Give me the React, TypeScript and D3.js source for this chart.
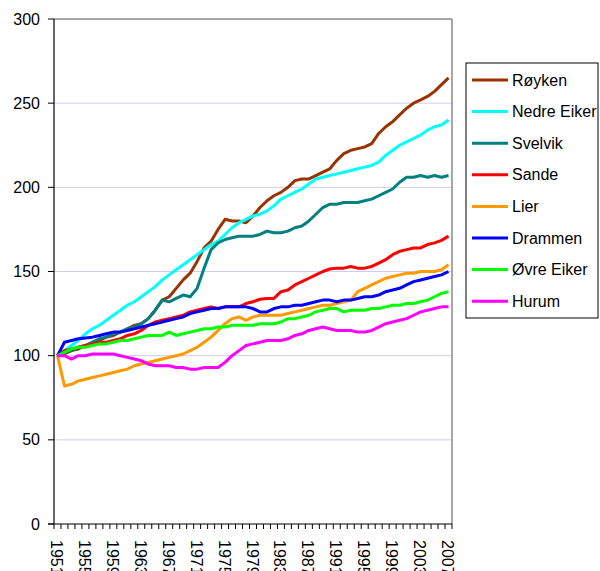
import React from "react";
import * as d3 from "d3";

const years: number[] = d3.range(1951, 2008);
const tickYears: number[] = d3.range(1951, 2008, 4);
const yTicks: number[] = [0, 50, 100, 150, 200, 250, 300];

const seriesNames = ["Røyken", "Nedre Eiker", "Svelvik", "Sande", "Lier", "Drammen", "Øvre Eiker", "Hurum"];
const seriesColors = ["#993300", "#00ffff", "#008080", "#ff0000", "#ff9900", "#0000ff", "#00ff00", "#ff00ff"];

const royken = [100,101,103,104,106,107,109,111,112,114,
  116,118,119,122,127,133,135,140,145,149,
  156,164,168,175,181,180,180,179,183,188,
  192,195,197,200,204,205,205,207,209,211,
  216,220,222,223,224,226,232,236,239,243,
  247,250,252,254,257,261,265];
const nedreEiker = [100,103,106,109,113,116,118,121,124,127,
  130,132,135,138,141,145,148,151,154,157,
  160,163,166,168,172,176,179,181,183,184,
  186,189,193,195,197,199,202,205,206,207,
  208,209,210,211,212,213,215,219,222,225,
  227,229,231,234,236,237,240];
const svelvik = [100,102,103,105,106,108,110,111,113,114,
  116,117,119,122,127,133,132,134,136,135,
  140,152,163,167,169,170,171,171,171,172,
  174,173,173,174,176,177,180,184,188,190,
  190,191,191,191,192,193,195,197,199,203,
  206,206,207,206,207,206,207];
const sande = [100,103,104,105,106,107,108,108,109,110,
  112,113,115,118,120,121,122,123,124,126,
  127,128,129,128,129,129,129,131,132,133.5,
  134,134,138,139,142,144,146,148,150,151.5,
  152,152,153,152,152,153,155,157,160,162,
  163,164,164,166,167,168.5,171];
const lier = [100,82,83,85,86,87,88,89,90,91,
  92,94,95,96,97,98,99,100,101,103,
  105,108,111,115,119,122,123,121,123,124,
  124,124,124,125,126,127,128,129,130,130,
  131,132,133,138,140,142,144,146,147,148,
  149,149,150,150,150,151,154];
const drammen = [100,108,109,110,110.5,111,112,113,114,114,
  115,116,117,118,119,120,121,122,123,125,
  126,127,128,128,129,129,129,129,128,126,
  126,128,129,129,130,130,131,132,133,133,
  132,133,133,134,135,135,136,138,139,140,
  142,144,145,146,147,148,150];
const ovreEiker = [100,102,104,105,105,106,107,107,108,109,
  109,110,111,112,112,112,114,112,113,114,
  115,116,116,117,117,118,118,118,118,119,
  119,119,120,122,122,123,124,126,127,128,
  128,126,127,127,127,128,128,129,130,130,
  131,131,132,133,135,137,138];
const hurum = [100,100,98,100,100,101,101,101,101,100,
  99,98,97,95,94,94,94,93,93,92,
  92,93,93,93,96,100,103,106,107,108,
  109,109,109,110,112,113,115,116,117,116,
  115,115,115,114,114,115,117,119,120,121,
  122,124,126,127,128,129,129];

const seriesValues = [royken, nedreEiker, svelvik, sande, lier, drammen, ovreEiker, hurum];

const FONT = "'Liberation Sans', Arial, sans-serif";

export default function App() {
  const W = 600, H = 571;
  const left = 54, right = 452, top = 19, bottom = 524;
  const x = d3.scaleBand<number>().domain(years).range([left, right]);
  const y = d3.scaleLinear().domain([0, 300]).range([bottom, top]);
  const cx = (yr: number) => (x(yr) as number) + x.bandwidth() / 2;
  const line = d3.line<number>().x((_, i) => cx(years[i])).y((v) => y(v));

  const boundaries = d3.range(years.length + 1).map((i) => left + i * x.step());

  const legX = 466, legY = 63, legW = 132, legH = 255;
  const legStep = 31.6;

  return (
    <svg width={W} height={H} style={{ position: "absolute", left: 0, top: 0, background: "#fff" }} fontFamily={FONT}>
      <rect x={0} y={0} width={W} height={H} fill="#fff" />
      {/* gridlines */}
      {yTicks.filter((t) => t > 0 && t < 300).map((t) => (
        <line key={"g" + t} x1={left} x2={right} y1={y(t)} y2={y(t)} stroke="#ccccf4" strokeWidth={1} />
      ))}
      {/* plot border top/right */}
      <line x1={left} x2={right} y1={y(300)} y2={y(300)} stroke="#8a8a8a" strokeWidth={1.5} />
      <line x1={right} x2={right} y1={y(300)} y2={bottom} stroke="#8a8a8a" strokeWidth={1.5} />
      {/* series */}
      {seriesValues.map((vals, si) => (
        <path key={seriesNames[si]} d={line(vals) || ""} fill="none" stroke={seriesColors[si]} strokeWidth={3} strokeLinejoin="round" />
      ))}
      {/* y axis */}
      <line x1={left} x2={left} y1={top} y2={bottom} stroke="#000" strokeWidth={1.2} />
      {yTicks.map((t) => (
        <g key={"y" + t}>
          <line x1={left - 6} x2={left} y1={y(t)} y2={y(t)} stroke="#000" strokeWidth={1} />
          <text x={40} y={y(t)} textAnchor="end" dominantBaseline="central" fontSize={16} fill="#000">{t}</text>
        </g>
      ))}
      {/* x axis */}
      <line x1={left - 6} x2={right} y1={bottom} y2={bottom} stroke="#000" strokeWidth={1.2} />
      {boundaries.map((bx, i) => (
        <line key={"xt" + i} x1={bx} x2={bx} y1={bottom} y2={bottom + 5} stroke="#000" strokeWidth={1} />
      ))}
      {tickYears.map((yr) => (
        <text key={"xl" + yr} transform={`translate(${cx(yr) - 1},${bottom + 16}) rotate(90)`} textAnchor="start" dominantBaseline="central" fontSize={16} fill="#000">{yr}</text>
      ))}
      {/* legend */}
      <rect x={legX} y={legY} width={legW} height={legH} fill="#fff" stroke="#000" strokeWidth={1} />
      {seriesNames.map((name, i) => {
        const ly = legY + 17 + i * legStep;
        return (
          <g key={"lg" + name}>
            <line x1={legX + 6} x2={legX + 42} y1={ly} y2={ly} stroke={seriesColors[i]} strokeWidth={3} />
            <text x={legX + 46} y={ly} dominantBaseline="central" fontSize={16} fill="#000">{name}</text>
          </g>
        );
      })}
    </svg>
  );
}
